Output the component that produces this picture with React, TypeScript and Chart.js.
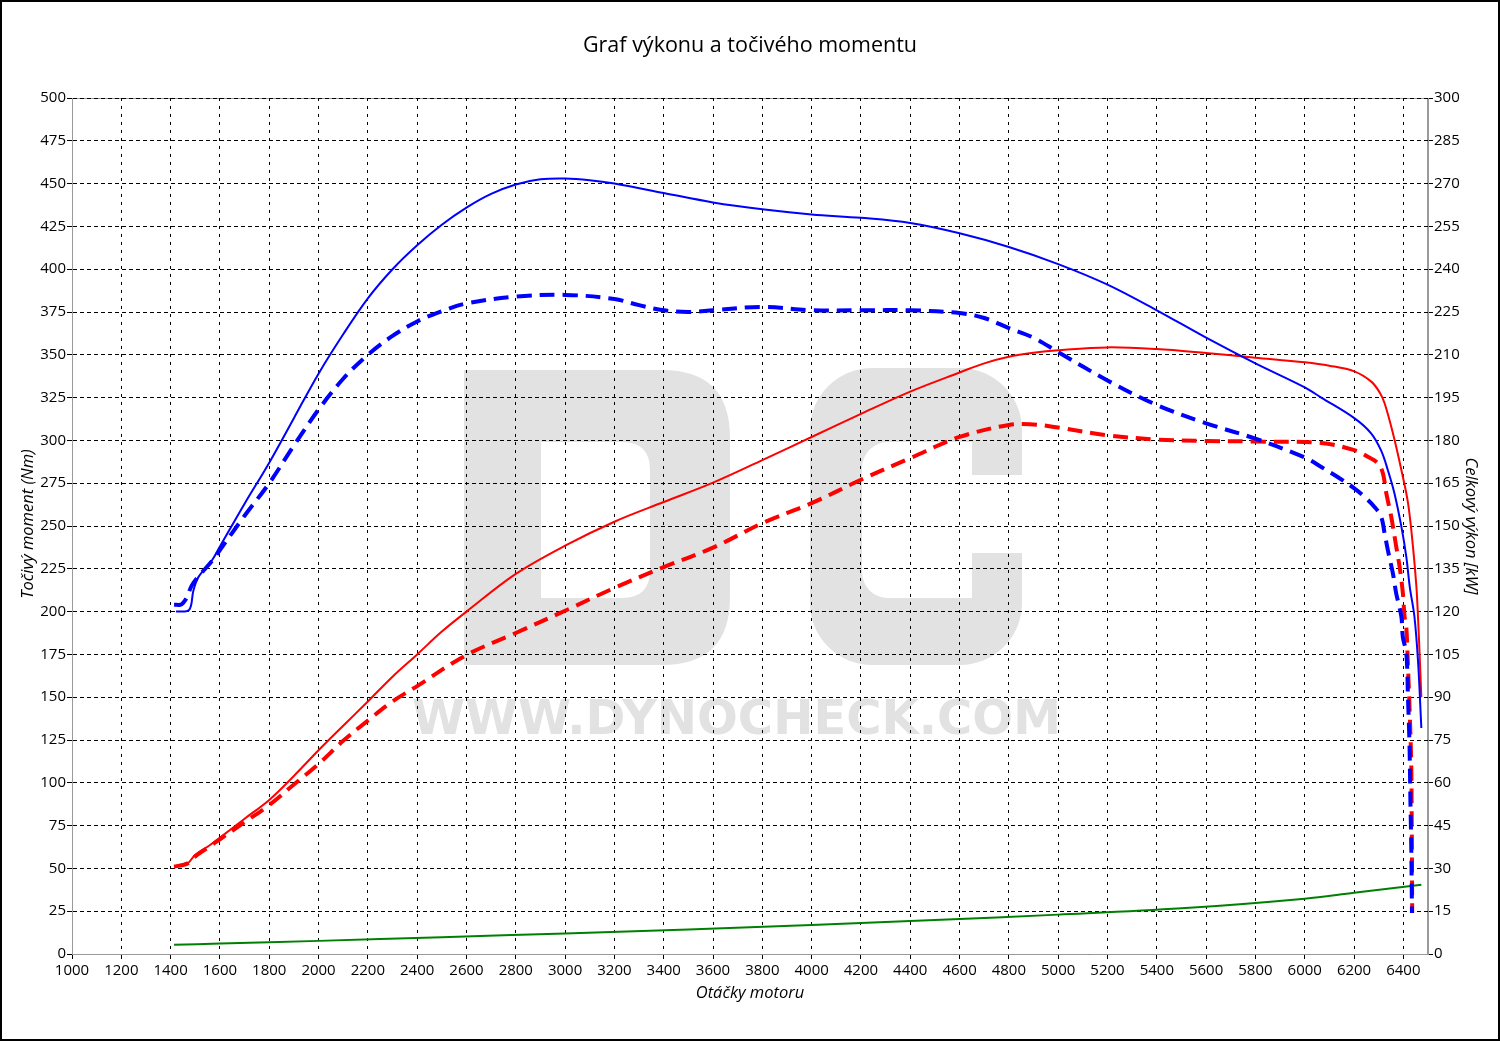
import React, { useEffect, useRef } from 'react';
import { Chart, registerables } from 'chart.js';

Chart.register(...registerables);

// ---------- DATA ----------
const titleText = 'Graf výkonu a točivého momentu';
const xAxisTitle = 'Otáčky motoru';
const leftAxisTitle = 'Točivý moment (Nm)';
const rightAxisTitle = 'Celkový výkon [kW]';

const rpmMin = 1000;
const rpmMax = 6500;
const rpmStep = 200;
const torqueMax = 500;
const torqueStep = 25;
const powerMax = 300;
const powerStep = 15;

// Tuned torque (blue solid), Nm
const tunedTorqueRpm = [1422, 1475, 1492, 1512, 1568, 1600, 1700, 1800, 1900, 2000, 2100, 2200, 2300, 2400, 2500, 2600, 2700, 2800, 2900, 3000, 3100, 3200, 3400, 3600, 3800, 4000, 4200, 4400, 4600, 4800, 5000, 5200, 5400, 5600, 5800, 6000, 6067, 6201, 6270, 6310, 6337, 6364, 6392, 6412, 6426, 6445, 6460, 6473];
const tunedTorqueNm = [200, 201, 212, 220, 230, 238, 263, 287, 313, 339, 362, 383, 400, 414, 426, 436, 444, 449.5, 452.5, 453, 452, 450, 444.5, 439, 435, 432, 430, 427, 421, 413, 403, 391, 376, 360, 345, 331, 325, 313, 304, 294, 282.7, 269, 249.6, 232, 214.5, 197, 170, 132];

// Stock torque (blue dashed), Nm
const stockTorqueRpm = [1414, 1440, 1450, 1465, 1485, 1510, 1570, 1600, 1700, 1800, 1900, 2000, 2100, 2200, 2300, 2400, 2500, 2600, 2800, 3000, 3200, 3300, 3400, 3500, 3600, 3800, 4000, 4200, 4400, 4600, 4700, 4800, 4900, 5000, 5200, 5400, 5600, 5800, 6000, 6067, 6135, 6201, 6243, 6284, 6310, 6324, 6337, 6358, 6371, 6392, 6398, 6412, 6419, 6425, 6429, 6432, 6435];
const stockTorqueNm = [204, 204, 205, 208, 215, 220, 230, 236, 256, 275, 297, 318, 336, 350, 361, 369.5, 375.5, 380, 384, 385, 382.6, 379, 376, 375, 376, 378, 376, 376, 376, 374.4, 371.5, 365.6, 360, 351.6, 335, 320.7, 310, 301, 290, 284.5, 278.5, 272, 267, 261, 255.4, 245.7, 236, 222, 210.7, 197, 185, 176, 149, 122, 86.4, 64, 24];

// Tuned power (red solid), kW
const tunedPowerRpm = [1414, 1450, 1470, 1500, 1560, 1600, 1700, 1800, 1900, 2000, 2100, 2200, 2300, 2400, 2500, 2600, 2800, 3000, 3200, 3400, 3600, 3800, 4000, 4200, 4400, 4600, 4700, 4800, 4900, 5000, 5200, 5400, 5600, 5800, 6000, 6100, 6201, 6270, 6304, 6324, 6358, 6392, 6419, 6439, 6453, 6460, 6466, 6473];
const tunedPowerKw = [30.6, 31.5, 31.8, 34.8, 38.2, 40.8, 47.4, 54, 62.4, 71.4, 80, 88.5, 97.2, 105, 113, 120, 133.2, 143.1, 151.5, 158.4, 165.2, 173.1, 181.2, 189.3, 197.1, 203.8, 207, 209.3, 210.7, 211.6, 212.6, 212, 210.6, 209, 207.4, 206.2, 204.2, 200.6, 196.8, 193, 182.4, 169.6, 158, 142.8, 128.7, 117, 105, 90];

// Stock power (red dashed), kW
const stockPowerRpm = [1414, 1450, 1470, 1500, 1560, 1600, 1700, 1800, 1900, 2000, 2100, 2200, 2300, 2400, 2600, 2800, 3000, 3200, 3400, 3600, 3800, 4000, 4200, 4400, 4600, 4800, 4900, 5000, 5200, 5400, 5600, 5800, 6067, 6201, 6256, 6297, 6317, 6331, 6351, 6371, 6385, 6398, 6405, 6412, 6419, 6425, 6432, 6434, 6436];
const stockPowerKw = [30.6, 31.2, 31.8, 34.2, 37.8, 40.2, 46.2, 52.2, 59.4, 66.6, 74.7, 81.8, 88.5, 93.9, 104.8, 112.5, 120.3, 128.3, 135.6, 142.4, 151, 158, 166.2, 173.8, 181.2, 185.4, 185.6, 184.5, 181.8, 180.3, 179.8, 179.6, 179.1, 176.6, 174.3, 172, 168.5, 161.4, 153.2, 142.8, 135.6, 126.5, 118.2, 114.6, 100.2, 86.7, 66.6, 46.6, 14.4];

// Losses (green), kW
const lossRpm = [1414, 1600, 2000, 2500, 3000, 3500, 4000, 4500, 5000, 5500, 6000, 6200, 6473];
const lossKw = [3.2, 3.7, 4.6, 5.9, 7.2, 8.6, 10.2, 11.9, 13.8, 16.0, 19.4, 21.5, 24.3];

// ---------- HELPERS ----------
const FONT = '"Open Sans", "Noto Sans", sans-serif';
const pts = (xs: number[], ys: number[]) => xs.map((x, i) => ({ x, y: ys[i] }));

const decorPlugin = {
  id: 'decor',
  beforeDraw(chart: any) {
    const { ctx, chartArea } = chart;
    ctx.save();
    ctx.fillStyle = '#ffffff';
    ctx.fillRect(0, 0, chart.width, chart.height);

    // Watermark "DC"
    ctx.fillStyle = '#e2e2e2';
    {
      const L = 464, R = 730, T = 370, B = 665, r = 68;
      const il = 541, ir = 650, it = 442, ib = 598, ri = 28;
      ctx.beginPath();
      ctx.moveTo(L, T);
      ctx.lineTo(R - r, T);
      ctx.quadraticCurveTo(R, T, R, T + r);
      ctx.lineTo(R, B - r);
      ctx.quadraticCurveTo(R, B, R - r, B);
      ctx.lineTo(L, B);
      ctx.closePath();
      ctx.moveTo(il, it);
      ctx.lineTo(ir - ri, it);
      ctx.quadraticCurveTo(ir, it, ir, it + ri);
      ctx.lineTo(ir, ib - ri);
      ctx.quadraticCurveTo(ir, ib, ir - ri, ib);
      ctx.lineTo(il, ib);
      ctx.closePath();
      ctx.fill('evenodd');
    }
    {
      ctx.beginPath();
      ctx.roundRect(810, 368, 212, 297, 62);
      ctx.fill();
      ctx.fillStyle = '#ffffff';
      ctx.beginPath();
      ctx.roundRect(862, 442, 110, 156, [26, 0, 0, 26]);
      ctx.fill();
      ctx.fillRect(955, 475, 75, 78);
      ctx.fillStyle = '#e2e2e2';
    }
    {
      const txt = 'WWW.DYNOCHECK.COM';
      ctx.font = 'bold 100px "DejaVu Sans"';
      const m = ctx.measureText(txt);
      const w = m.actualBoundingBoxRight + m.actualBoundingBoxLeft;
      const h = m.actualBoundingBoxAscent;
      ctx.save();
      ctx.translate(413, 734);
      ctx.scale(644 / w, 36 / h);
      ctx.textBaseline = 'alphabetic';
      ctx.fillText(txt, m.actualBoundingBoxLeft, 0);
      ctx.restore();
    }

    ctx.strokeStyle = '#9a9a9a';
    ctx.lineWidth = 1;
    ctx.strokeRect(chartArea.left + 0.5, chartArea.top + 0.5, chartArea.right - chartArea.left - 1, chartArea.bottom - chartArea.top);
    ctx.restore();
  },
  afterDraw(chart: any) {
    const { ctx, chartArea } = chart;
    ctx.save();
    ctx.fillStyle = '#000';
    ctx.textAlign = 'center';
    ctx.textBaseline = 'middle';
    ctx.font = `21.5px ${FONT}`;
    ctx.fillText(titleText, (chartArea.left + chartArea.right) / 2, 46);

    ctx.font = `italic 16.5px ${FONT}`;
    ctx.fillText(xAxisTitle, (chartArea.left + chartArea.right) / 2, 993);

    ctx.save();
    ctx.translate(28, (chartArea.top + chartArea.bottom) / 2 - 2);
    ctx.rotate(-Math.PI / 2);
    ctx.fillText(leftAxisTitle, 0, 0);
    ctx.restore();

    ctx.save();
    ctx.translate(1471, (chartArea.top + chartArea.bottom) / 2);
    ctx.rotate(Math.PI / 2);
    ctx.fillText(rightAxisTitle, 0, 0);
    ctx.restore();

    ctx.strokeStyle = '#000';
    ctx.lineWidth = 2;
    ctx.strokeRect(1, 1, chart.width - 2, chart.height - 2);
    ctx.restore();
  },
};

export default function App() {
  const ref = useRef<HTMLCanvasElement | null>(null);

  useEffect(() => {
    if (!ref.current) return;
    const tickFont = { family: FONT, size: 15 };
    const common = { pointRadius: 0, tension: 0.35, fill: false };
    const chart = new Chart(ref.current, {
      type: 'line',
      data: {
        datasets: [
          {
            label: 'Točivý moment - úprava',
            data: pts(tunedTorqueRpm, tunedTorqueNm),
            yAxisID: 'y',
            borderColor: '#0000ff',
            borderWidth: 2,
            ...common,
          },
          {
            label: 'Výkon - úprava',
            data: pts(tunedPowerRpm, tunedPowerKw),
            yAxisID: 'y1',
            borderColor: '#ff0000',
            borderWidth: 2,
            ...common,
          },
          {
            label: 'Točivý moment - sériový',
            data: pts(stockTorqueRpm, stockTorqueNm),
            yAxisID: 'y',
            borderColor: '#0000ff',
            borderWidth: 4,
            borderDash: [15, 8],
            ...common,
          },
          {
            label: 'Výkon - sériový',
            data: pts(stockPowerRpm, stockPowerKw),
            yAxisID: 'y1',
            borderColor: '#ff0000',
            borderWidth: 4,
            borderDash: [15, 8],
            ...common,
          },
          {
            label: 'Ztráty',
            data: pts(lossRpm, lossKw),
            yAxisID: 'y1',
            borderColor: '#008000',
            borderWidth: 2,
            ...common,
          },
        ],
      },
      options: {
        responsive: false,
        animation: false,
        events: [],
        layout: { padding: { top: 98, left: 0, right: 0, bottom: 0 } },
        plugins: {
          legend: { display: false },
          tooltip: { enabled: false },
          title: { display: false },
        },
        scales: {
          x: {
            type: 'linear',
            min: rpmMin,
            max: rpmMax,
            ticks: {
              stepSize: rpmStep,
              includeBounds: false,
              autoSkip: false,
              maxRotation: 0,
              font: tickFont,
              color: '#000',
              padding: 3,
              callback: (v: any) => String(v),
            },
            grid: {
              color: '#000',
              lineWidth: 1,
              tickLength: 5,
              tickColor: '#000',
              tickBorderDash: [],
            },
            border: { display: true, color: '#9a9a9a', dash: [3, 5] },
            afterFit: (s: any) => { s.height = 87; },
          },
          y: {
            type: 'linear',
            position: 'left',
            min: 0,
            max: torqueMax,
            ticks: { stepSize: torqueStep, font: tickFont, color: '#000', padding: 1, autoSkip: false, callback: (v: any) => String(v) },
            grid: {
              color: '#000',
              lineWidth: 1,
              tickLength: 5,
              tickColor: '#000',
              tickBorderDash: [],
            },
            border: { display: true, color: '#9a9a9a', dash: [4, 3] },
            afterFit: (s: any) => { s.width = 72; },
          },
          y1: {
            type: 'linear',
            position: 'right',
            min: 0,
            max: powerMax,
            ticks: { stepSize: powerStep, font: tickFont, color: '#000', padding: 1, autoSkip: false, callback: (v: any) => String(v) },
            grid: {
              drawOnChartArea: false,
              color: '#000',
              tickLength: 5,
              tickColor: '#000',
              tickBorderDash: [],
            },
            border: { display: true, color: '#9a9a9a' },
            afterFit: (s: any) => { s.width = 72; },
          },
        },
      } as any,
      plugins: [decorPlugin],
    });
    return () => chart.destroy();
  }, []);

  return (
    <div style={{ position: 'fixed', left: 0, top: 0, width: 1500, height: 1041, background: '#fff' }}>
      <canvas ref={ref} width={1500} height={1041} style={{ display: 'block', width: 1500, height: 1041 }} />
    </div>
  );
}
